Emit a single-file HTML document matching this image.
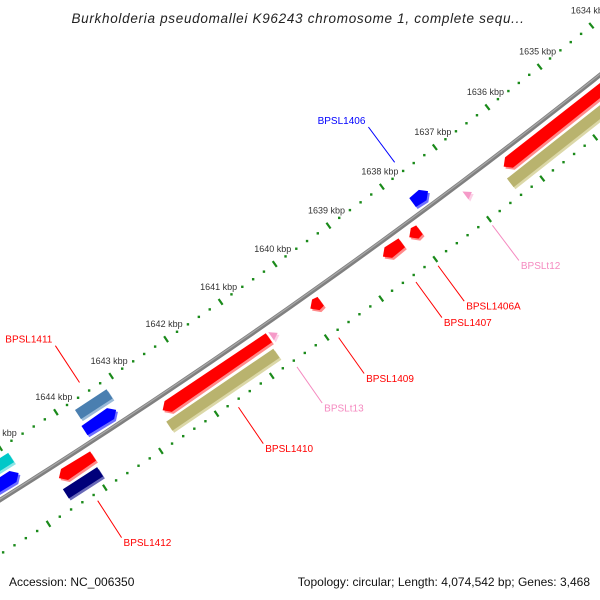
<!DOCTYPE html>
<html><head><meta charset="utf-8"><style>
html,body{margin:0;padding:0;background:#fff;}
svg{display:block;}
</style></head><body>
<svg id="chart" width="600" height="600" viewBox="0 0 600 600" xmlns="http://www.w3.org/2000/svg">
<text x="298" y="23" text-anchor="middle" font-family="Liberation Sans, sans-serif" font-style="italic" font-size="13.5" letter-spacing="0.7" fill="#222">Burkholderia pseudomallei K96243 chromosome 1, complete sequ...</text>
<g id="ticks"></g>
<g id="backbone"></g>
<g id="genes"></g>
<g id="labels"></g>
<text x="9" y="586" font-family="Liberation Sans, sans-serif" font-size="12" fill="#111">Accession: NC_006350</text>
<text x="590" y="586" text-anchor="end" font-family="Liberation Sans, sans-serif" font-size="12" fill="#111">Topology: circular; Length: 4,074,542 bp; Genes: 3,468</text>
</svg>
<script>
// ---- data ----
var majorTicks = [1633,1634,1635,1636,1637,1638,1639,1640,1641,1642,1643,1644,1645,1646];
var tickLabels = ["1633 kbp","1634 kbp","1635 kbp","1636 kbp","1637 kbp","1638 kbp","1639 kbp","1640 kbp","1641 kbp","1642 kbp","1643 kbp","1644 kbp","1645 kbp","1646 kbp"];
var geneNames = ["BPSL1406","BPSL1406A","BPSL1407","BPSL1409","BPSL1410","","BPSL1411","","BPSL1412","","","","","","BPSLt12","BPSLt13"];
var geneLeft  = [1637.77,1638.12,1638.61,1639.95,1642.64,1642.69,1643.74,1643.79,1644.50,1644.54,1646.0,1646.0,1636.35,1636.42,1637.07,1640.67];
var geneRight = [1637.48,1637.93,1638.26,1639.76,1640.71,1640.75,1643.17,1643.22,1643.89,1643.93,1644.94,1644.97,1633.0,1633.0,1636.96,1640.56];
var geneRow   = ["B","C","C","C","C","D","A","B","C","D","A","B","C","D","C","C"];
var geneArrow = ["R","L","L","L","L","N","N","R","L","N","N","R","L","N","T","T"];
var geneColor = ["blue","red","red","red","red","olive","steel","blue","red","navy","cyan","blue","red","olive","pink","pink"];

// ---- geometry ----
var CX=-3525, CY=-5112.5, R=6627.7, A0=51.30, DEG_PER_KBP=0.575;
var rowOff={A:-30,B:-13,C:13,D:30};
var palette={red:["#ff0000","#ff8a8a"],olive:["#b9b36e","#dcd8a8"],blue:["#0000ff","#7070ff"],steel:["#4a7fb0","#9bbbd8"],navy:["#00007a","#6a6ab8"],cyan:["#00c8c8","#8ae6e6"],pink:["#f59ac8","#fcd0e6"]};
var textColor={red:"#ff0000",blue:"#0000ff",pink:"#f58ac0"};
function P(kbp,r){var t=(A0+(kbp-1634)*DEG_PER_KBP)*Math.PI/180;return [CX+r*Math.cos(t),CY+r*Math.sin(t)];}
var NS="http://www.w3.org/2000/svg";
function mk(tag){return document.createElementNS(NS,tag);}
function pts(a){return a.map(function(p){return p[0].toFixed(2)+","+p[1].toFixed(2);}).join(" ");}

// backbone
var bb=document.getElementById("backbone");
var bpts=[];for(var k=1632;k<=1647;k+=0.25)bpts.push(P(k,R));
var bl=mk("polyline");


bl.setAttribute("points",pts(bpts));bl.setAttribute("fill","none");bl.setAttribute("stroke","#808080");bl.setAttribute("stroke-width","4.5");bb.appendChild(bl);
var bpts2=[];for(var k=1632;k<=1647;k+=0.25)bpts2.push(P(k,R-0.8));
var bl2=mk("polyline");


bl2.setAttribute("points",pts(bpts2));bl2.setAttribute("fill","none");bl2.setAttribute("stroke","#a8a8a8");bl2.setAttribute("stroke-width","1.2");bb.appendChild(bl2);

// ticks
var tg=document.getElementById("ticks");
[R-44,R+46].forEach(function(rr,ti){
  for(var i=0;i<(majorTicks.length-1)*5+1;i++){
    var kb=majorTicks[0]+i*0.2;
    var major=(i%5===0);
    if(major){
      var a=P(kb,rr-3.5),b=P(kb,rr+3.5);
      var l=mk("line");
      
      
      l.setAttribute("x1",a[0]);l.setAttribute("y1",a[1]);l.setAttribute("x2",b[0]);l.setAttribute("y2",b[1]);
      l.setAttribute("stroke","#1a8a1a");l.setAttribute("stroke-width","2.2");tg.appendChild(l);
    }else{
      var c=P(kb,rr);
      var d=mk("rect");
      
      
      d.setAttribute("x",c[0]-1.2);d.setAttribute("y",c[1]-1.2);d.setAttribute("width",2.4);d.setAttribute("height",2.4);
      d.setAttribute("fill","#1a8a1a");tg.appendChild(d);
    }
  }
});
majorTicks.forEach(function(kb,i){
  var c=P(kb,R-44);
  var t=mk("text");
  
  
  t.setAttribute("x",c[0]-2);t.setAttribute("y",c[1]-12);t.setAttribute("text-anchor","middle");
  t.setAttribute("font-family","Liberation Sans, sans-serif");t.setAttribute("font-size","9");t.setAttribute("fill","#333");
  t.textContent=tickLabels[i];tg.appendChild(t);
});

// genes
var gg=document.getElementById("genes"), lg=document.getElementById("labels");
var H=11, AL=0.1;
function geneShape(left,right,r,arrow,h){
  var hi=r-h/2, ho=r+h/2, s=[];
  if(arrow==="T"){ return [P(left,hi-1),P(left,ho+1),P(right,r+1)]; }
  var L=left,Rt=right;
  if(arrow==="L"){var Lb=Math.max(left-AL,right);s=[P(left,r),P(Lb,hi-1),P(Rt,hi),P(Rt,ho),P(Lb,ho+1)];}
  else if(arrow==="R"){var Rb=Math.min(right+AL,left);s=[P(L,hi),P(Rb,hi-1),P(right,r),P(Rb,ho+1),P(L,ho)];}
  else {s=[P(L,hi),P(Rt,hi),P(Rt,ho),P(L,ho)];}
  return s;
}
for(var i=0;i<geneNames.length;i++){
  var r=R+rowOff[geneRow[i]];
  var col=palette[geneColor[i]];
  var shp=geneShape(geneLeft[i],geneRight[i],r,geneArrow[i],geneArrow[i]==="T"?8:H);
  var g=mk("g");
  
  
  var sh=mk("polygon");
  
  
  sh.setAttribute("points",pts(shp.map(function(p){return [p[0]+1.8,p[1]+2];})));sh.setAttribute("fill",col[1]);g.appendChild(sh);
  var m=mk("polygon");
  
  
  m.setAttribute("points",pts(shp));m.setAttribute("fill",col[0]);g.appendChild(m);
  gg.appendChild(g);
  if(geneNames[i]){
    var mid=(geneLeft[i]+geneRight[i])/2, up=(geneRow[i]==="A"||geneRow[i]==="B");
    var a=up?P(mid,R-56):P(mid,R+53), b=up?P(mid,R-100):P(mid,R+97);
    var tc=textColor[geneColor[i]]||"#ff0000";
    var ln=mk("line");
    
    
    ln.setAttribute("x1",a[0]);ln.setAttribute("y1",a[1]);ln.setAttribute("x2",b[0]);ln.setAttribute("y2",b[1]);
    ln.setAttribute("stroke",tc);ln.setAttribute("stroke-width","1");lg.appendChild(ln);
    var tx=mk("text");
    
    
    tx.setAttribute("font-family","Liberation Sans, sans-serif");tx.setAttribute("font-size","10");tx.setAttribute("fill",tc);
    if(up){tx.setAttribute("x",b[0]-3);tx.setAttribute("y",b[1]-3);tx.setAttribute("text-anchor","end");}
    else{tx.setAttribute("x",b[0]+2);tx.setAttribute("y",b[1]+8.5);}
    tx.textContent=geneNames[i];lg.appendChild(tx);
  }
}
</script>
</body></html>
